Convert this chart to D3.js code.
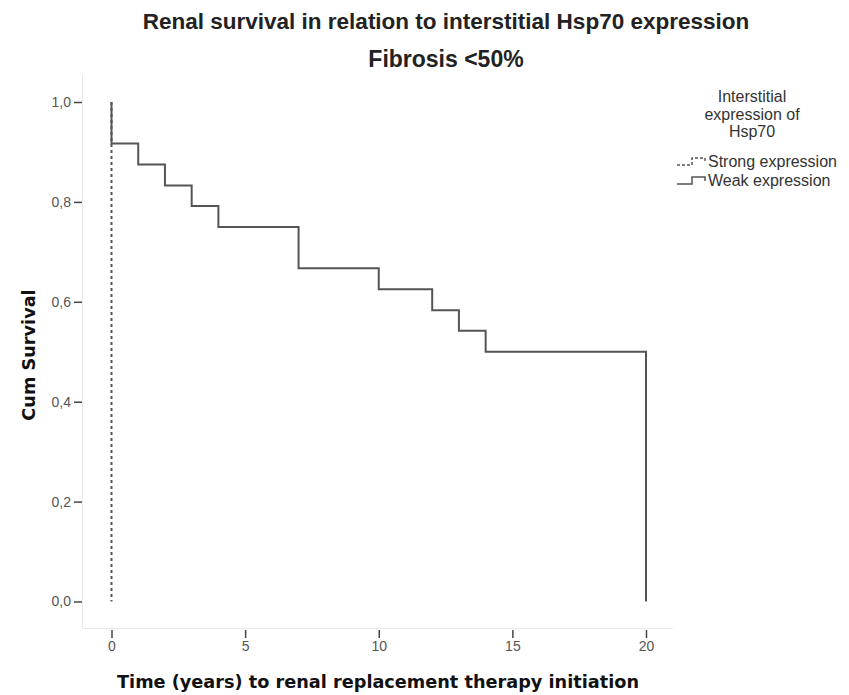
<!DOCTYPE html>
<html><head><meta charset="utf-8">
<script src="https://cdn.jsdelivr.net/npm/d3@7"></script>
<style>body{margin:0;background:#fff}</style>
</head><body>
<svg id="c" width="849" height="695"></svg>
<script>
const title = "Renal survival in relation to interstitial Hsp70 expression";
const subtitle = "Fibrosis <50%";
const xTicks = [0, 5, 10, 15, 20];
const yTicks = [0, 0.2, 0.4, 0.6, 0.8, 1.0];
// Weak expression: event times and survival after each step
const weakTimes = [0, 0, 1, 2, 3, 4, 7, 10, 12, 13, 14, 20];
const weakSurv  = [1, 0.917, 0.875, 0.833, 0.792, 0.75, 0.667, 0.625, 0.583, 0.542, 0.5, 0];
// Strong expression
const strongTimes = [0, 0];
const strongSurv = [1, 0];
const legendTitle = ["Interstitial", "expression of", "Hsp70"];
const legendLabels = ["Strong expression", "Weak expression"];

const svg = d3.select("#c");
const x = d3.scaleLinear().domain([0, 20]).range([111.5, 646]);
const y = d3.scaleLinear().domain([0, 1]).range([601.5, 102]);

// frame (left + bottom faint)
svg.append("path").attr("d", `M82.5,75V628.5H673`).attr("fill","none").attr("stroke","#e8e8e8").attr("stroke-width",1);

// y axis
const ya = svg.append("g").attr("transform","translate(82,0)")
  .call(d3.axisLeft(y).tickValues(yTicks).tickSize(8).tickPadding(3).tickFormat(d => d3.format(".1f")(d).replace(".", ",")));
ya.select(".domain").remove();
ya.selectAll("line").attr("stroke","#444").attr("stroke-width",1.5);
ya.selectAll("text").attr("font-family","Liberation Sans, Arial").attr("font-size",14).attr("fill","#555");

// x axis
const xa = svg.append("g").attr("transform","translate(0,630)")
  .call(d3.axisBottom(x).tickValues(xTicks).tickSize(8).tickPadding(3));
xa.select(".domain").remove();
xa.selectAll("line").attr("stroke","#444").attr("stroke-width",1.5);
xa.selectAll("text").attr("font-family","Liberation Sans, Arial").attr("font-size",14).attr("fill","#555");

// step curves
function stepPath(times, surv) {
  const pts = [];
  for (let i = 0; i < times.length; i++) {
    if (i > 0) pts.push([times[i], surv[i-1]]);
    pts.push([times[i], surv[i]]);
  }
  return d3.line().x(d => x(d[0])).y(d => y(d[1]))(pts);
}
svg.append("path").attr("d", stepPath(strongTimes, strongSurv)).attr("fill","none")
  .attr("stroke","#555").attr("stroke-width",2).attr("stroke-dasharray","3,3");
svg.append("path").attr("d", stepPath(weakTimes, weakSurv)).attr("fill","none")
  .attr("stroke","#555").attr("stroke-width",2);

// titles
svg.append("text").attr("x",446).attr("y",29).attr("text-anchor","middle")
  .attr("font-family","Liberation Sans, Arial").attr("font-size",22.5).attr("font-weight","bold").attr("fill","#222").text(title);
svg.append("text").attr("x",446).attr("y",67).attr("text-anchor","middle")
  .attr("font-family","Liberation Sans, Arial").attr("font-size",23).attr("font-weight","bold").attr("fill","#222").text(subtitle);
svg.append("text").attr("x",378).attr("y",688).attr("text-anchor","middle")
  .attr("font-family","DejaVu Sans, Verdana").attr("font-size",17.7).attr("font-weight","bold").attr("fill","#111")
  .text("Time (years) to renal replacement therapy initiation");
svg.append("text").attr("transform","translate(35,355) rotate(-90)").attr("text-anchor","middle")
  .attr("font-family","DejaVu Sans, Verdana").attr("font-size",17.7).attr("font-weight","bold").attr("fill","#111")
  .text("Cum Survival");

// legend
legendTitle.forEach((t,i) => svg.append("text").attr("x",752).attr("y",102 + i*17.5).attr("text-anchor","middle")
  .attr("font-family","Liberation Sans, Arial").attr("font-size",16).attr("fill","#333").text(t));
const sym = (y0, dash) => svg.append("path")
  .attr("d", `M677,${y0+3}H692V${y0-4}H705V${y0}`).attr("fill","none")
  .attr("stroke","#555").attr("stroke-width",1.5).attr("stroke-dasharray", dash);
sym(162, "3,2"); sym(181, null);
legendLabels.forEach((t,i) => svg.append("text").attr("x",708).attr("y",167 + i*19)
  .attr("font-family","Liberation Sans, Arial").attr("font-size",16).attr("fill","#333").text(t));
</script>
</body></html>
